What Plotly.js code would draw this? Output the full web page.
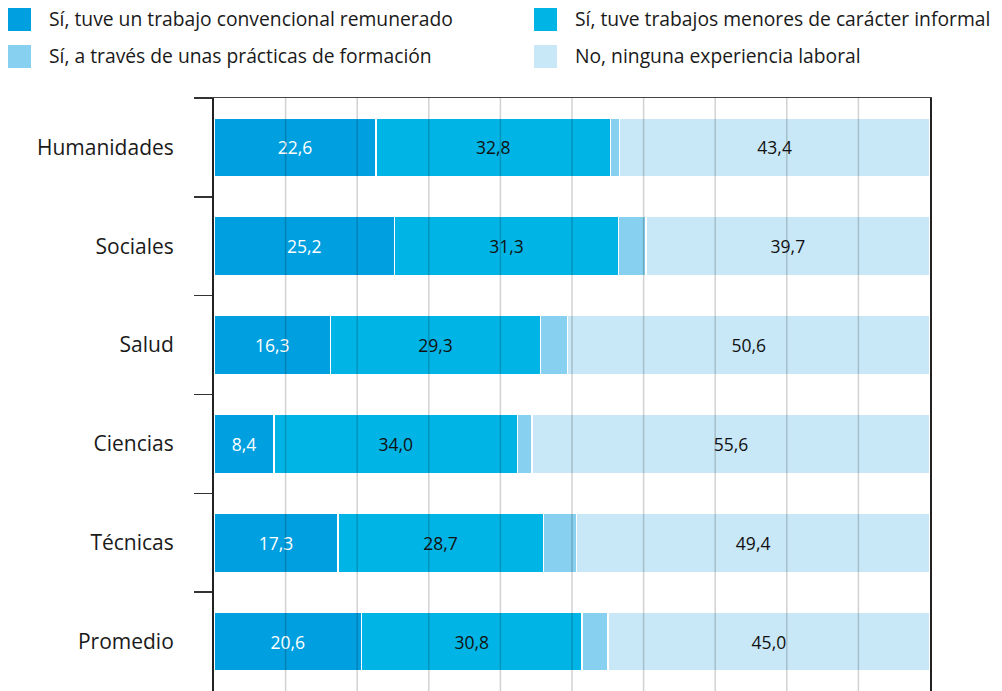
<!DOCTYPE html>
<html>
<head>
<meta charset="utf-8">
<script src="https://cdn.plot.ly/plotly-3.0.1.min.js"></script>
<style>html,body{margin:0;padding:0;background:#fff;}#chart{width:1002px;height:691px;}</style>
</head>
<body>
<div id="chart"></div>
<script>
// Data
const categories = ["Humanidades", "Sociales", "Salud", "Ciencias", "Técnicas", "Promedio"];
const convencional = [22.6, 25.2, 16.3, 8.4, 17.3, 20.6];
const informal = [32.8, 31.3, 29.3, 34.0, 28.7, 30.8];
const practicas = [1.2, 3.8, 3.8, 2.0, 4.6, 3.6];
const ninguna = [43.4, 39.7, 50.6, 55.6, 49.4, 45.0];
const seriesNames = [
  "Sí, tuve un trabajo convencional remunerado",
  "Sí, tuve trabajos menores de carácter informal",
  "Sí, a través de unas prácticas de formación",
  "No, ninguna experiencia laboral"
];
const gridTicks = [10, 20, 30, 40, 50, 60, 70, 80, 90];

const colors = ["#009fdf", "#00b5e6", "#87d0f0", "#c9e8f7"];
const textColors = ["#ffffff", "#111111", "#111111", "#111111"];
const showText = [true, true, false, true];
const seriesValues = [convencional, informal, practicas, ninguna];

const FONT = "Open Sans, sans-serif";

const traces = seriesValues.map((vals, i) => ({
  type: "bar",
  orientation: "h",
  name: seriesNames[i],
  y: categories,
  x: vals,
  marker: { color: colors[i], line: { color: "#ffffff", width: 1.5 } },
  texttemplate: showText[i] ? "%{x:.1f}" : "",
  textposition: showText[i] ? "inside" : "none",
  insidetextanchor: "middle",
  textfont: { family: FONT, size: 17.5, color: textColors[i] },
  constraintext: "none",
  hoverinfo: "x+name",
  showlegend: false
}));

// plot area geometry for legend placement (pixels -> paper)
const L = 214, T = 98, W = 716, H = 593;
const px = v => (v - L) / W;
const py = v => (T + H - v) / H;

const legendPos = [
  { x: 8, y: 8 },
  { x: 534, y: 8 },
  { x: 8, y: 45 },
  { x: 534, y: 45 }
];

const shapes = [];
const annotations = [];
legendPos.forEach((p, i) => {
  shapes.push({
    type: "rect", xref: "paper", yref: "paper",
    x0: px(p.x), x1: px(p.x + 23), y0: py(p.y + 23), y1: py(p.y),
    fillcolor: colors[i], line: { width: 0 }, layer: "above"
  });
  annotations.push({
    xref: "paper", yref: "paper", x: px(p.x + 39), y: py(p.y + 11),
    xanchor: "left", yanchor: "middle", showarrow: false,
    text: seriesNames[i], font: { family: FONT, size: 19.3, color: "#1a1a1a" }
  });
});
gridTicks.forEach(t => {
  shapes.push({
    type: "line", xref: "x", yref: "paper", x0: t, x1: t, y0: 0, y1: 1,
    line: { color: "rgba(0,0,0,0.18)", width: 1.5 }, layer: "above"
  });
});

const layout = {
  width: 1002, height: 691,
  margin: { l: L, r: 1002 - L - W, t: T, b: 0, pad: 0 },
  barmode: "stack",
  bargap: 0.4,
  separators: ",.",
  paper_bgcolor: "#fff",
  plot_bgcolor: "#fff",
  font: { family: FONT, color: "#1a1a1a" },
  xaxis: {
    range: [0, 100], showgrid: false, zeroline: false,
    showticklabels: false, ticks: "", fixedrange: true,
    showline: true, mirror: true, linecolor: "#444", linewidth: 1.5
  },
  yaxis: {
    type: "category", autorange: "reversed",
    tickson: "boundaries", ticks: "outside", ticklen: 18, tickwidth: 1.5, tickcolor: "#333",
    showline: true, mirror: true, linecolor: "#222", linewidth: 2,
    showgrid: false, zeroline: false,
    tickfont: { family: FONT, size: 21, color: "#1a1a1a" },
    ticklabelstandoff: 34, fixedrange: true
  },
  shapes: shapes,
  annotations: annotations,
  showlegend: false
};

Plotly.newPlot("chart", traces, layout, { displayModeBar: false, staticPlot: true });
</script>
</body>
</html>
